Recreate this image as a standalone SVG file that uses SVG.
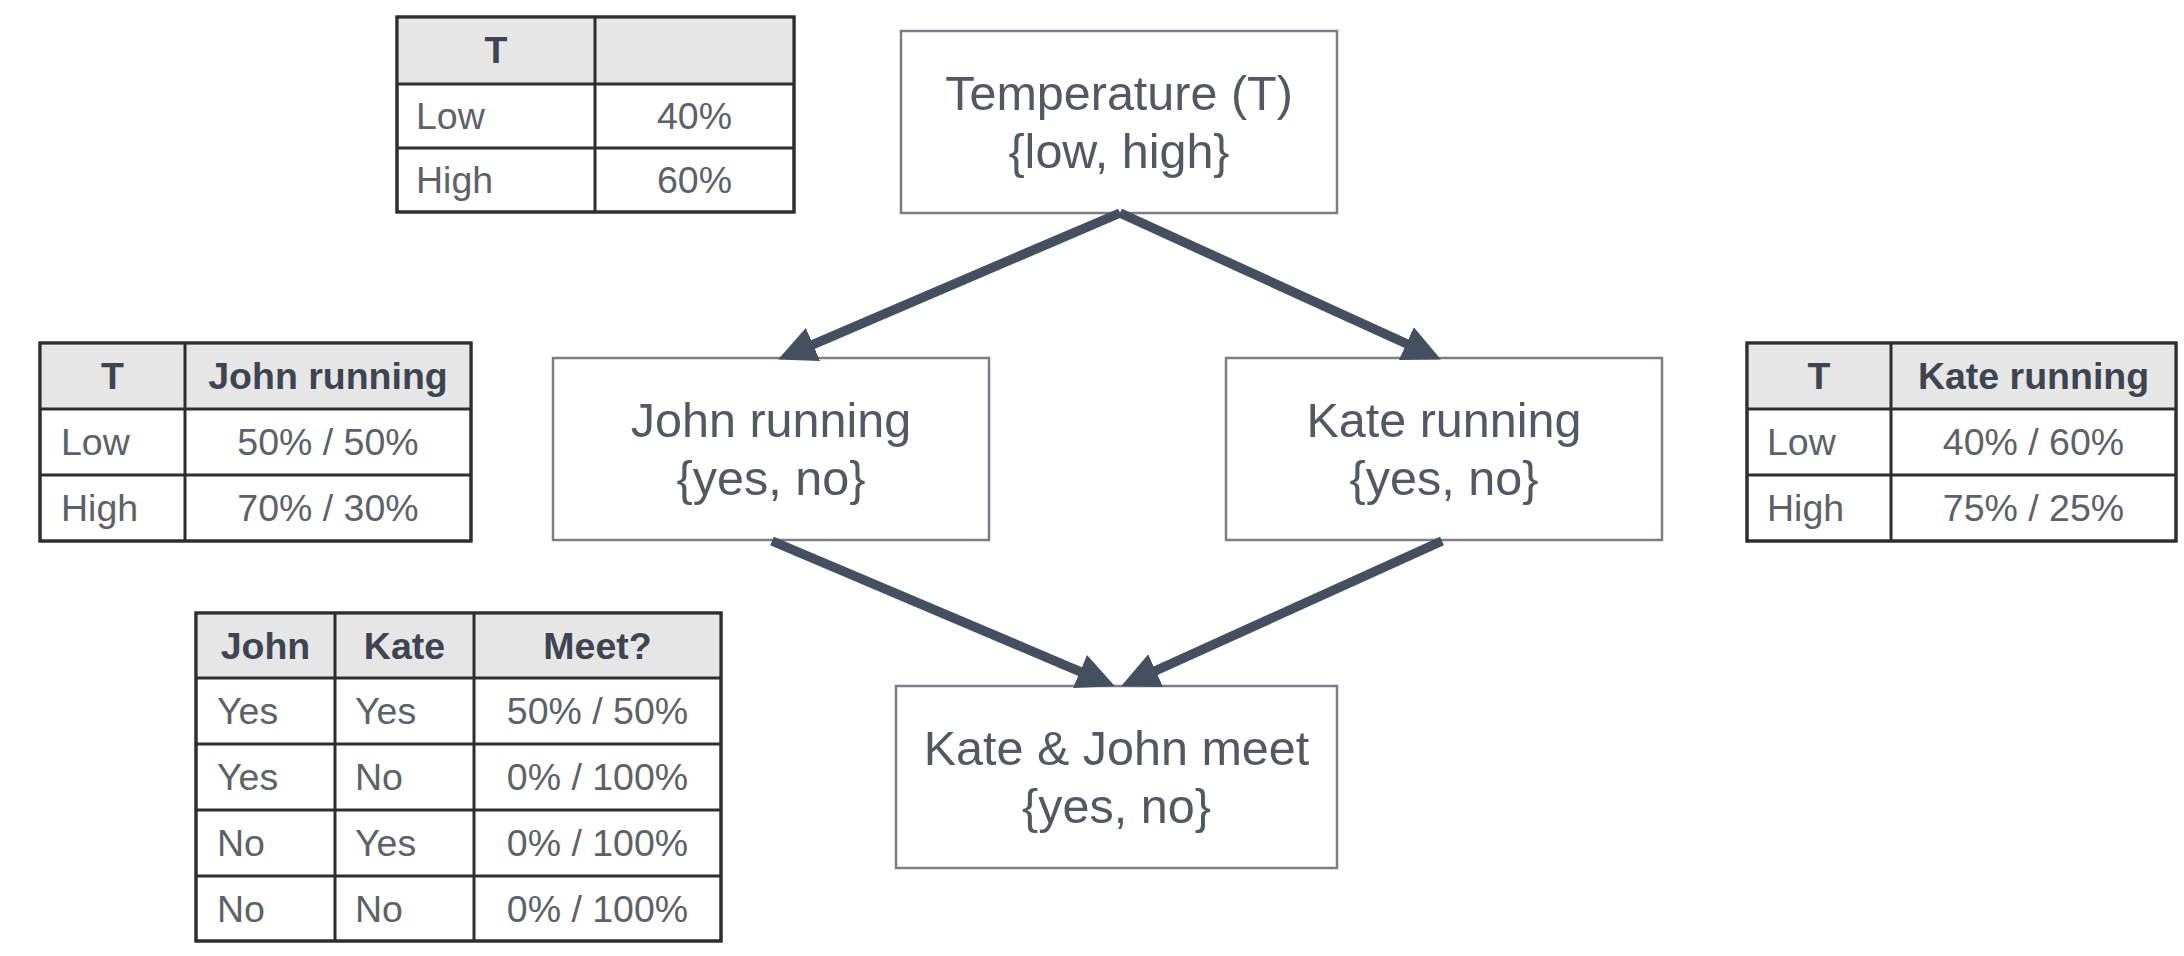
<svg xmlns="http://www.w3.org/2000/svg" width="2184" height="956" viewBox="0 0 2184 956">
<style>
  .bg{fill:#ffffff}
  .node rect{fill:#ffffff;stroke:#7b7f85;stroke-width:2.5}
  .node text{font-family:"Liberation Sans",Arial,sans-serif;font-size:48.5px;fill:#525963;text-anchor:middle}
  .tbl .frame{fill:#ffffff;stroke:#2e2e2e;stroke-width:3}
  .tbl .head{fill:#e6e6e6;stroke:none}
  .tbl line{stroke:#2e2e2e;stroke-width:3}
  .tbl text{font-family:"Liberation Sans",Arial,sans-serif;font-size:37.5px;fill:#5d6168}
  .tbl text.h{font-weight:bold;fill:#3e4551;text-anchor:middle}
  .tbl text.c{text-anchor:middle}
  .edge{stroke:#44505f;stroke-width:9.5;fill:none;stroke-linecap:butt}
</style>
<defs>
  <marker id="arrow" markerUnits="userSpaceOnUse" markerWidth="38" markerHeight="36" refX="25" refY="18" orient="auto">
    <path d="M0,0 L38,18 L0,36 z" fill="#44505f"/>
  </marker>
</defs>
<rect class="bg" x="0" y="0" width="2184" height="956"/>

<g id="table-temperature" class="tbl">
  <rect class="frame" x="397" y="17" width="397" height="195"/>
  <rect class="head" x="398.5" y="18.5" width="394" height="65.5"/>
  <line x1="595" y1="17" x2="595" y2="212"/>
  <line x1="397" y1="84" x2="794" y2="84"/>
  <line x1="397" y1="148" x2="794" y2="148"/>
  <rect x="397" y="17" width="397" height="195" fill="none" stroke="#2e2e2e" stroke-width="3"/>
  <text class="h" x="496" y="63">T</text>
  <text x="416" y="129">Low</text>
  <text class="c" x="694.5" y="129">40%</text>
  <text x="416" y="193">High</text>
  <text class="c" x="694.5" y="193">60%</text>
</g>

<g id="table-john" class="tbl">
  <rect class="frame" x="40" y="343" width="431" height="198"/>
  <rect class="head" x="41.5" y="344.5" width="428" height="64.5"/>
  <line x1="185" y1="343" x2="185" y2="541"/>
  <line x1="40" y1="409" x2="471" y2="409"/>
  <line x1="40" y1="475" x2="471" y2="475"/>
  <rect x="40" y="343" width="431" height="198" fill="none" stroke="#2e2e2e" stroke-width="3"/>
  <text class="h" x="112.5" y="389">T</text>
  <text class="h" x="328" y="389">John running</text>
  <text x="61" y="455">Low</text>
  <text class="c" x="328" y="455">50% / 50%</text>
  <text x="61" y="521">High</text>
  <text class="c" x="328" y="521">70% / 30%</text>
</g>

<g id="table-kate" class="tbl">
  <rect class="frame" x="1747" y="343" width="429" height="198"/>
  <rect class="head" x="1748.5" y="344.5" width="426" height="64.5"/>
  <line x1="1891" y1="343" x2="1891" y2="541"/>
  <line x1="1747" y1="409" x2="2176" y2="409"/>
  <line x1="1747" y1="475" x2="2176" y2="475"/>
  <rect x="1747" y="343" width="429" height="198" fill="none" stroke="#2e2e2e" stroke-width="3"/>
  <text class="h" x="1819" y="389">T</text>
  <text class="h" x="2033.5" y="389">Kate running</text>
  <text x="1767" y="455">Low</text>
  <text class="c" x="2033.5" y="455">40% / 60%</text>
  <text x="1767" y="521">High</text>
  <text class="c" x="2033.5" y="521">75% / 25%</text>
</g>

<g id="table-meet" class="tbl">
  <rect class="frame" x="196" y="613" width="525" height="328"/>
  <rect class="head" x="197.5" y="614.5" width="522" height="63.5"/>
  <line x1="335" y1="613" x2="335" y2="941"/>
  <line x1="474" y1="613" x2="474" y2="941"/>
  <line x1="196" y1="678" x2="721" y2="678"/>
  <line x1="196" y1="744" x2="721" y2="744"/>
  <line x1="196" y1="810" x2="721" y2="810"/>
  <line x1="196" y1="876" x2="721" y2="876"/>
  <rect x="196" y="613" width="525" height="328" fill="none" stroke="#2e2e2e" stroke-width="3"/>
  <text class="h" x="265.5" y="659">John</text>
  <text class="h" x="404.5" y="659">Kate</text>
  <text class="h" x="597.5" y="659">Meet?</text>
  <text x="217" y="724">Yes</text>
  <text x="355" y="724">Yes</text>
  <text class="c" x="597.5" y="724">50% / 50%</text>
  <text x="217" y="790">Yes</text>
  <text x="355" y="790">No</text>
  <text class="c" x="597.5" y="790">0% / 100%</text>
  <text x="217" y="856">No</text>
  <text x="355" y="856">Yes</text>
  <text class="c" x="597.5" y="856">0% / 100%</text>
  <text x="217" y="922">No</text>
  <text x="355" y="922">No</text>
  <text class="c" x="597.5" y="922">0% / 100%</text>
</g>

<g id="node-temperature" class="node">
  <rect x="901" y="31" width="436" height="182"/>
  <text x="1119" y="110">Temperature (T)</text>
  <text x="1119" y="168">{low, high}</text>
</g>

<g id="node-john" class="node">
  <rect x="553" y="358" width="436" height="182"/>
  <text x="771" y="437">John running</text>
  <text x="771" y="495">{yes, no}</text>
</g>

<g id="node-kate" class="node">
  <rect x="1226" y="358" width="436" height="182"/>
  <text x="1444" y="437">Kate running</text>
  <text x="1444" y="495">{yes, no}</text>
</g>

<g id="node-meet" class="node">
  <rect x="896" y="686" width="441" height="182"/>
  <text x="1116.5" y="765">Kate &amp; John meet</text>
  <text x="1116.5" y="823">{yes, no}</text>
</g>

<g id="connectors">
  <line class="edge" x1="1120" y1="213" x2="790" y2="354.3" marker-end="url(#arrow)"/>
  <line class="edge" x1="1120" y1="213" x2="1429.1" y2="354" marker-end="url(#arrow)"/>
  <line class="edge" x1="772" y1="541" x2="1103" y2="681.3" marker-end="url(#arrow)"/>
  <line class="edge" x1="1442" y1="541" x2="1132.9" y2="681" marker-end="url(#arrow)"/>
</g>
</svg>
